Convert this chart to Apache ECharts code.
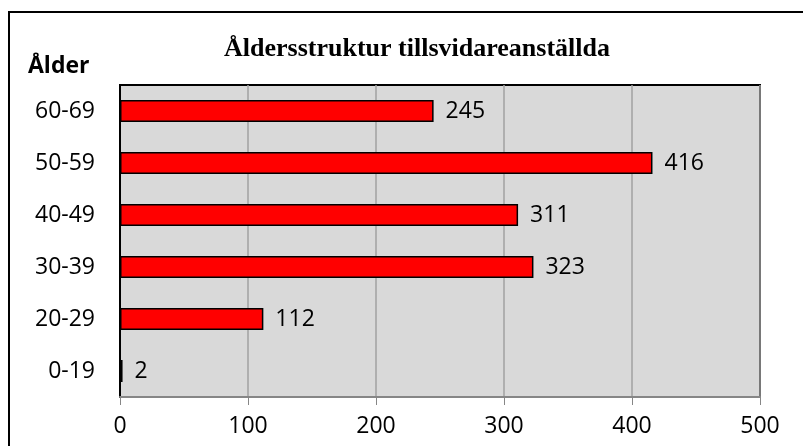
<!DOCTYPE html>
<html>
<head>
<meta charset="utf-8">
<script src="https://cdn.jsdelivr.net/npm/echarts@6/dist/echarts.min.js"></script>
<style>
  html, body { margin: 0; padding: 0; background: #fff; }
  #main { width: 803px; height: 446px; }
</style>
</head>
<body>
<div id="main"></div>
<script>
// åldersgrupper, nerifrån och upp
var categories = ['0-19', '20-29', '30-39', '40-49', '50-59', '60-69'];
var antal = [2, 112, 323, 311, 416, 245];
var xTicks = [0, 100, 200, 300, 400, 500];

var font = '"Open Sans", sans-serif';

var myChart = echarts.init(document.getElementById('main'));
myChart.setOption({
    animation: false,
    title: {
        text: 'Åldersstruktur tillsvidareanställda',
        left: 412,
        top: 31,
        textAlign: 'center',
        textStyle: {
            fontFamily: '"Liberation Serif", serif',
            fontWeight: 'bold',
            fontSize: 26,
            color: '#000'
        }
    },
    graphic: [
        {
            type: 'rect',
            shape: { x: 9, y: 12, width: 820, height: 460 },
            style: { fill: null, stroke: '#000', lineWidth: 2 },
            z: -1
        },
        {
            type: 'text',
            left: 28,
            top: 55,
            style: {
                text: 'Ålder',
                font: 'bold 23px "Open Sans", sans-serif',
                fill: '#000'
            }
        }
    ],
    grid: {
        left: 120,
        top: 85,
        right: 43,
        bottom: 49,
        show: true,
        backgroundColor: '#d9d9d9',
        borderColor: '#000',
        borderWidth: 2
    },
    xAxis: {
        type: 'value',
        min: xTicks[0],
        max: xTicks[xTicks.length - 1],
        interval: 100,
        axisLine: { show: true, lineStyle: { color: '#868686', width: 2 } },
        axisTick: { show: true, length: 8, lineStyle: { color: '#868686' } },
        splitLine: { show: true, lineStyle: { color: '#a0a0a0', width: 1.5 } },
        axisLabel: {
            margin: 18,
            fontFamily: font,
            fontSize: 23,
            color: '#000'
        }
    },
    yAxis: {
        type: 'category',
        data: categories,
        axisLine: { show: true, lineStyle: { color: '#000', width: 2 } },
        axisTick: { show: false },
        axisLabel: {
            margin: 25,
            fontFamily: font,
            fontSize: 23,
            color: '#000'
        }
    },
    series: [{
        type: 'bar',
        data: antal,
        barWidth: 22,
        itemStyle: {
            color: '#ff0000',
            borderColor: '#000',
            borderWidth: 1.5
        },
        label: {
            show: true,
            position: 'right',
            distance: 12,
            fontFamily: font,
            fontSize: 23,
            color: '#000'
        }
    }]
});
</script>
</body>
</html>
